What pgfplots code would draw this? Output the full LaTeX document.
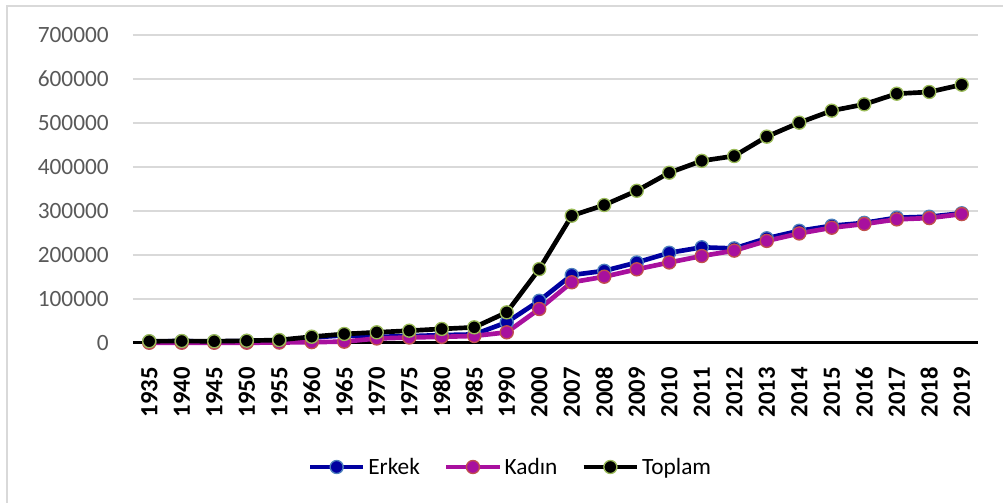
\documentclass[border=0pt]{standalone}
\usepackage{pgfplots}
\pgfplotsset{compat=1.18}
\usepackage{pgfplotstable}
\usepackage{fontspec}
\setmainfont{Carlito}
\definecolor{ebl}{HTML}{0000A0}
\definecolor{ebledge}{HTML}{4F81BD}
\definecolor{kmag}{HTML}{A8109E}
\definecolor{kedge}{HTML}{C0504D}
\definecolor{tedge}{HTML}{9BBB59}
\definecolor{gridc}{HTML}{D9D9D9}
\definecolor{ticklab}{HTML}{595959}

\pgfplotstableread{
idx year erkek kadin toplam
0 1935 3500 500 4000
1 1940 4000 500 4500
2 1945 3400 500 3900
3 1950 4600 600 5200
4 1955 5800 1000 6800
5 1960 12300 2000 14300
6 1965 17500 3000 20500
7 1970 14000 10300 24300
8 1975 15500 12500 28000
9 1980 18000 14000 32000
10 1985 19500 16000 35600
11 1990 47000 24300 69700
12 2000 96000 77300 168000
13 2007 154500 138000 289300
14 2008 164000 150700 313600
15 2009 183000 167500 346000
16 2010 205000 183000 387000
17 2011 217500 197700 414000
18 2012 215000 210000 425000
19 2013 238000 232000 469000
20 2014 255000 249000 500700
21 2015 266500 262000 528000
22 2016 273000 270500 542500
23 2017 284800 281000 566600
24 2018 287000 284000 570500
25 2019 294800 293000 587000
}\data

\begin{document}
\begin{tikzpicture}
\useasboundingbox (-99.75pt,-120pt) rectangle (652.5pt,257.25pt);
\draw[gridc, line width=1.5pt] (-94.5pt,-125pt) -- (-94.5pt,252.75pt) -- (660pt,252.75pt);
\begin{axis}[
  at={(0pt,0pt)}, anchor=south west,
  scale only axis, width=633.75pt, height=231pt,
  xmin=-0.5, xmax=25.5, ymin=0, ymax=700000,
  axis x line*=bottom, axis y line*=left,
  x axis line style={black, line width=2.25pt, -},
  y axis line style={draw=none},
  major tick length=0pt,
  xtick={0,...,25},
  xticklabels={1935,1940,1945,1950,1955,1960,1965,1970,1975,1980,1985,1990,2000,2007,2008,2009,2010,2011,2012,2013,2014,2015,2016,2017,2018,2019},
  xticklabel style={rotate=90, anchor=east, inner sep=0pt, font=\bfseries\fontsize{18.5}{18.5}\selectfont, text=black},
  xticklabel shift=18pt,
  ytick distance=100000,
  scaled y ticks=false,
  yticklabel style={inner sep=0pt, font=\fontsize{17.5}{17.5}\selectfont, text=ticklab, /pgf/number format/.cd, 1000 sep={}, fixed, assume math mode=true},
  yticklabel shift=18pt,
  ymajorgrids, grid style={gridc, line width=1pt},
  clip=false,
  legend columns=3,
  legend style={at={(0.447,-0.4026)}, anchor=center, draw=none, fill=none,
    font=\fontsize{17.5}{17.5}\selectfont,
    /tikz/every even column/.append style={column sep=16pt},
    nodes={inner sep=2pt}},
  legend image code/.code={\draw[mark repeat=2,mark phase=2] plot coordinates {(0pt,0pt)(20pt,0pt)(40pt,0pt)};},
]
\addplot[color=ebl, line width=3.5pt, mark=*, mark size=4.9pt, mark options={fill=ebl, draw=ebledge, line width=1pt}] table[x=idx, y=erkek] {\data};
\addlegendentry{Erkek}
\addplot[color=kmag, line width=3.5pt, mark=*, mark size=4.9pt, mark options={fill=kmag, draw=kedge, line width=1pt}] table[x=idx, y=kadin] {\data};
\addlegendentry{Kadın}
\addplot[color=black, line width=3.5pt, mark=*, mark size=4.9pt, mark options={fill=black, draw=tedge, line width=1pt}] table[x=idx, y=toplam] {\data};
\addlegendentry{Toplam}
\end{axis}
\end{tikzpicture}
\end{document}
